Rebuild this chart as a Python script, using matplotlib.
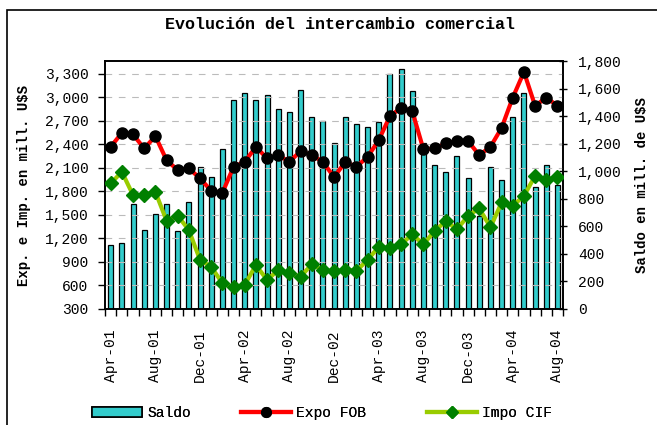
import matplotlib
matplotlib.use('Agg')
import matplotlib.pyplot as plt
from matplotlib.lines import Line2D
from matplotlib.patches import Patch
import numpy as np

# monthly data, Apr-01 .. Aug-04
months = ['Apr-01', 'May-01', 'Jun-01', 'Jul-01', 'Aug-01', 'Sep-01', 'Oct-01', 'Nov-01', 'Dec-01',
          'Jan-02', 'Feb-02', 'Mar-02', 'Apr-02', 'May-02', 'Jun-02', 'Jul-02', 'Aug-02', 'Sep-02',
          'Oct-02', 'Nov-02', 'Dec-02', 'Jan-03', 'Feb-03', 'Mar-03', 'Apr-03', 'May-03', 'Jun-03',
          'Jul-03', 'Aug-03', 'Sep-03', 'Oct-03', 'Nov-03', 'Dec-03', 'Jan-04', 'Feb-04', 'Mar-04',
          'Apr-04', 'May-04', 'Jun-04', 'Jul-04', 'Aug-04']

saldo = [466, 479, 763, 576, 690, 763, 566, 775, 1035, 962, 1159, 1516, 1567, 1516, 1557, 1455,
         1431, 1591, 1394, 1368, 1207, 1394, 1346, 1321, 1358, 1705, 1742, 1581, 1207, 1047, 998,
         1110, 950, 678, 1035, 935, 1394, 1569, 889, 1047, 901]

expo_fob = [2368, 2546, 2526, 2347, 2504, 2198, 2071, 2093, 1965, 1807, 1782, 2113, 2177, 2368,
            2220, 2262, 2177, 2313, 2262, 2177, 1980, 2177, 2113, 2240, 2453, 2759, 2865, 2823,
            2335, 2347, 2411, 2440, 2440, 2262, 2368, 2610, 2997, 3323, 2890, 2997, 2890]

impo_cif = [1901, 2049, 1752, 1752, 1794, 1425, 1489, 1306, 924, 839, 627, 576, 606, 861, 669,
            797, 755, 712, 869, 797, 780, 797, 788, 924, 1094, 1073, 1124, 1252, 1124, 1294, 1421,
            1315, 1489, 1583, 1341, 1659, 1616, 1743, 1998, 1943, 1985]

left_ticks = list(range(300, 3301, 300))
right_ticks = list(range(0, 1801, 200))

mono = 'Liberation Mono'

fig = plt.figure(figsize=(6.57, 4.25), dpi=100)
ax = fig.add_axes([0.160, 0.273, 0.697, 0.583])
ax2 = ax.twinx()

x = np.arange(len(months))

# bars on the secondary axis, drawn behind the lines
ax2.bar(x, saldo, width=0.45, color='#33CCCC', edgecolor='black', linewidth=0.9, zorder=2)
ax2.set_ylim(0, 1800)
ax2.set_yticks(right_ticks)
ax2.set_yticklabels(['{:,}'.format(v) for v in right_ticks], family=mono, fontsize=10.5)
ax2.tick_params(axis='y', direction='inout', length=6, width=1, pad=8)
ax2.set_ylabel('Saldo en mill. de U$S', family=mono, fontsize=10, fontweight='bold', labelpad=9)

# lines on the primary axis, placed above the bars
ax.set_zorder(ax2.get_zorder() + 1)
ax.patch.set_visible(False)
ax.plot(x, expo_fob, color='red', linewidth=3, marker='o', markersize=8,
        markerfacecolor='black', markeredgecolor='black', zorder=4)
ax.plot(x, impo_cif, color='#99CC00', linewidth=3, marker='D', markersize=7,
        markerfacecolor='#008000', markeredgecolor='#008000', zorder=3)

ax.set_ylim(300, 3460)
ax.set_yticks(left_ticks)
ax.set_yticklabels(['{:,}'.format(v) for v in left_ticks], family=mono, fontsize=10.5)
ax.tick_params(axis='y', direction='out', length=5, width=1, pad=7)
ax.set_ylabel('Exp. e Imp. en mill. U$S', family=mono, fontsize=10, fontweight='bold', labelpad=10)
for v in left_ticks:
    ax.axhline(v, color='#BBBBBB', linewidth=0.8, linestyle=(0, (6, 6)), zorder=0)

ax.set_xlim(-0.5, len(months) - 0.5)
ax.set_xticks(x[::4])
ax.set_xticklabels(months[::4], rotation=90, family=mono, fontsize=10.5)
ax.set_xticks(np.arange(-0.5, len(months), 1), minor=True)
ax.tick_params(axis='x', which='major', length=0, pad=15)
ax.tick_params(axis='x', which='minor', direction='out', length=5, width=1)

for a in (ax, ax2):
    for s in a.spines.values():
        s.set_linewidth(1.2)

fig.text(0.518, 0.942, 'Evolución del intercambio comercial', ha='center', va='center',
         family=mono, fontsize=12, fontweight='bold')

# legend: three entries placed along the bottom
entries = [
    (Patch(facecolor='#33CCCC', edgecolor='black', linewidth=1.2), 'Saldo', 92),
    (Line2D([], [], color='red', linewidth=3, marker='o', markersize=7,
            markerfacecolor='black', markeredgecolor='black'), 'Expo FOB', 241),
    (Line2D([], [], color='#99CC00', linewidth=3, marker='D', markersize=6,
            markerfacecolor='#008000', markeredgecolor='#008000'), 'Impo CIF', 427),
]
for handle, label, px in entries:
    leg = fig.legend([handle], [label], loc='center left', bbox_to_anchor=(px / 657, 0.028),
                     frameon=False, prop={'family': mono, 'size': 10.5}, handlelength=3.4,
                     handletextpad=0.4, borderpad=0, borderaxespad=0)
    fig.add_artist(leg)

# outer chart frame (left and top edges visible)
fig.add_artist(plt.Rectangle((7 / 657, -0.1), 1.2, 1 - 10 / 425 + 0.1, transform=fig.transFigure,
                             fill=False, edgecolor='black', linewidth=1.2))

fig.savefig('out.png', dpi=100)
